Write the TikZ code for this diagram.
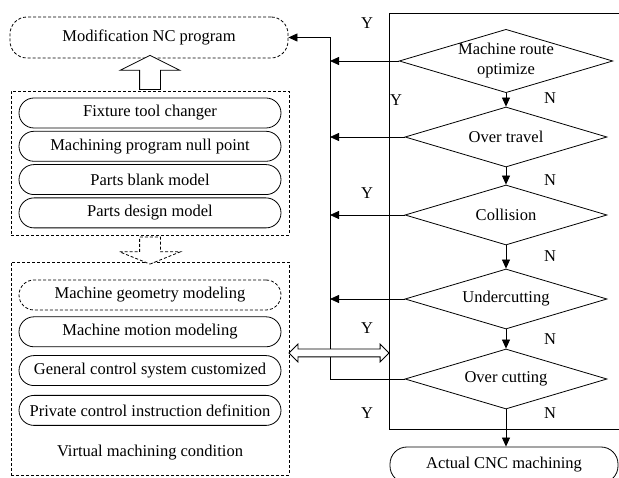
\documentclass[tikz,border=0pt]{standalone}
\usepackage{fontspec}
\setmainfont{Liberation Serif}
\usetikzlibrary{positioning,shapes.geometric,shapes.arrows,arrows.meta}

\tikzset{
  pill/.style={draw, rounded corners=15pt, minimum width=262pt, minimum height=30pt, inner sep=0pt},
  dashpill/.style={pill, dash pattern=on 3pt off 2pt},
  decision/.style={draw, diamond, aspect=3.37, minimum width=202pt, minimum height=60pt, inner sep=0pt, align=center},
  group/.style={draw, dash pattern=on 3pt off 2pt, minimum width=278pt, inner sep=0pt},
  flow/.style={-{Triangle[length=9pt,width=8pt]}},
  fatarrow/.style={draw, fill=white, single arrow, inner xsep=0pt, single arrow head indent=0pt},
  yn/.style={inner sep=0pt},
}

\begin{document}
\begin{tikzpicture}[x=1pt, y=-1pt, line width=0.8pt, font=\fontsize{16.5}{20}\selectfont]
  \clip (0,0) rectangle (619,478);

  % left column
  \node[dashpill, minimum width=278pt, minimum height=41pt, rounded corners=17pt] (modify) at (149,37.5) {Modification NC program};

  \node[group, minimum height=144pt] (parts) at (150,163) {};
  \node[pill] (fixture) at (150,113) {Fixture tool changer};
  \node[pill, below=2.5pt of fixture] (nullpt) {Machining program null point};
  \node[pill, below=2.5pt of nullpt] (blank) {Parts blank model};
  \node[pill, below=2.5pt of blank] (design) {Parts design model};

  \node[group, minimum height=213pt] (virtual) at (150,368.5) {};
  \node[dashpill] (geometry) at (150,295) {Machine geometry modeling};
  \node[pill, below=6pt of geometry] (motion) {Machine motion modeling};
  \node[pill, below=8pt of motion] (general) {General control system customized};
  \node[pill, below=9pt of general] (private) {Private control instruction definition};
  \node[below=16pt of private] (condition) {Virtual machining condition};

  \node[fatarrow, rotate=90, minimum height=34pt, inner ysep=10pt,
        single arrow head extend=19.5pt, single arrow tip angle=127] (up) at (150,75) {};
  \node[fatarrow, dash pattern=on 3pt off 2pt, rotate=-90, minimum height=27pt, inner ysep=10pt,
        single arrow head extend=20pt, single arrow tip angle=136] (down) at (150,248.5) {};

  % checking loop
  \draw (625,13) -- (389,13) coordinate (frame) -- (389,429) -- (625,429);
  \coordinate (bus) at (330,0);

  \node[decision] (route) at (506,61) {Machine route\\optimize};
  \node[decision] (travel) at (506,137) {Over travel};
  \node[decision] (collision) at (506,215) {Collision};
  \node[decision] (under) at (506,299) {Undercutting};
  \node[decision] (overcut) at (506,379) {Over cutting};
  \node[pill, minimum width=228pt, minimum height=36pt, rounded corners=17pt] (cnc) at (504,465) {Actual CNC machining};

  \draw[flow] (route) -- (travel);
  \draw[flow] (travel) -- (collision);
  \draw[flow] (collision) -- (under);
  \draw[flow] (under) -- (overcut);
  \draw[flow] (overcut.south) -- (overcut.south |- cnc.north);

  \foreach \check in {route,travel,collision,under}
    \draw[flow] (\check.west) -- (\check.west -| bus);
  \draw[flow] (overcut.west) -| (bus |- modify.east) -- (modify.east);

  \node[fatarrow, double arrow, minimum height=100pt, inner ysep=3.5pt,
        double arrow head extend=5pt, double arrow tip angle=90] (link) at (339,353) {};

  \node[yn] (y1) at (367,23) {Y};
  \node[yn] (y2) at (396,100) {Y};
  \node[yn] (y3) at (367,193) {Y};
  \node[yn] (y4) at (367,328) {Y};
  \node[yn] (y5) at (367,413) {Y};
  \node[yn] (n1) at (550,98) {N};
  \node[yn] (n2) at (550,180) {N};
  \node[yn] (n3) at (550,256) {N};
  \node[yn] (n4) at (550,339) {N};
  \node[yn] (n5) at (550,413) {N};
\end{tikzpicture}
\end{document}
